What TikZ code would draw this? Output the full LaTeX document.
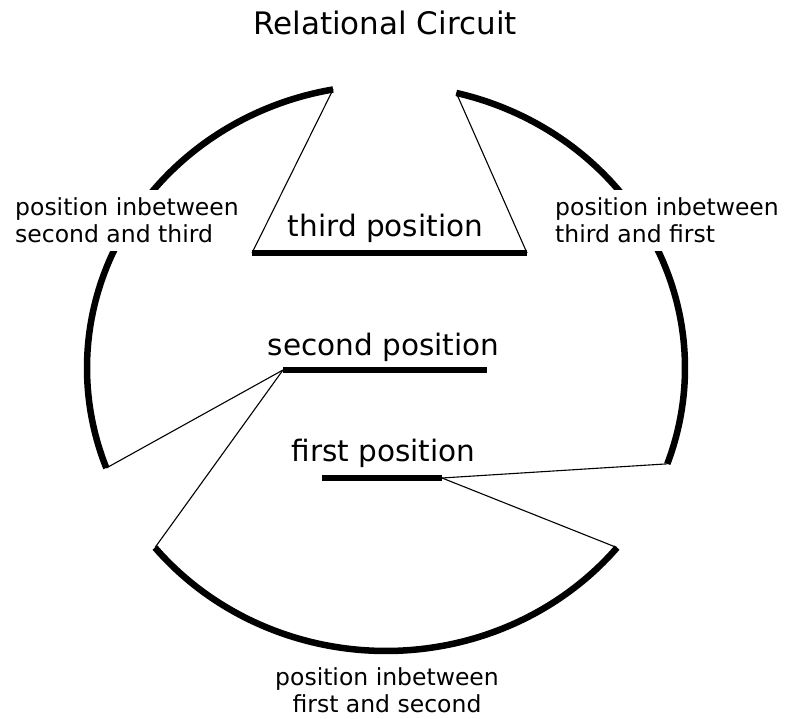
\documentclass[tikz,border=0pt]{standalone}
\usepackage{fontspec}
\setmainfont{DejaVu Sans}
\begin{document}
\begin{tikzpicture}[x=1pt,y=1pt,
  arcline/.style={line width=6.5pt},
  barline/.style={line width=5.5pt},
  thinline/.style={line width=1.1pt},
  bigtext/.style={font=\fontsize{29.5}{35}\selectfont, inner sep=0pt},
  titletext/.style={font=\fontsize{31}{37}\selectfont, inner sep=0pt},
  sidetext/.style={font=\fontsize{23.5}{27}\selectfont, fill=white, inner xsep=5pt, inner ysep=8pt}
]
\useasboundingbox (0,0) rectangle (785,719);
\coordinate (C) at (386,351);
% arc end points
\path (C) ++(100.2:299pt and 283pt) coordinate (tl);
\path (C) ++(200.7:299pt and 283pt) coordinate (ll);
\path (C) ++(219.4:299pt and 283pt) coordinate (bl);
\path (C) ++(320.6:299pt and 283pt) coordinate (br);
\path (C) ++(-19.8:299pt and 283pt) coordinate (rl);
\path (C) ++(76.4:299pt and 283pt) coordinate (tr);
% arcs
\draw[arcline] (tl) arc[start angle=100.2, end angle=200.7, x radius=299pt, y radius=283pt];
\draw[arcline] (bl) arc[start angle=219.4, end angle=320.6, x radius=299pt, y radius=283pt];
\draw[arcline] (rl) arc[start angle=-19.8, end angle=76.4, x radius=299pt, y radius=283pt];
% bars
\coordinate (t1) at (252,466);
\coordinate (t2) at (527,466);
\coordinate (s1) at (283,349);
\coordinate (s2) at (487,349);
\coordinate (f1) at (322,241);
\coordinate (f2) at (442,241);
\draw[barline] (t1) -- (t2);
\draw[barline] (s1) -- (s2);
\draw[barline] (f1) -- (f2);
% thin connectors
\draw[thinline] (t1) -- (tl);
\draw[thinline] (t2) -- (tr);
\draw[thinline] (s1) -- (ll);
\draw[thinline] (s1) -- (bl);
\draw[thinline] (f2) -- (rl);
\draw[thinline] (f2) -- (br);
% texts
\node[titletext, anchor=base] (title) at (385,684) {Relational Circuit};
\node[bigtext, anchor=base] (third) at (385.5,482) {third position};
\node[bigtext, anchor=base] (second) at (383.5,363) {second position};
\node[bigtext, anchor=base] (first) at (383.5,257) {first position};
\node[sidetext, align=left, anchor=north west] (lefttext) at (10,529.5) {position inbetween\\second and third};
\node[sidetext, align=left, anchor=north west] (righttext) at (550,529.5) {position inbetween\\third and first};
\node[sidetext, align=center, anchor=north] (bottomtext) at (387,59.5) {position inbetween\\first and second};
\end{tikzpicture}
\end{document}
